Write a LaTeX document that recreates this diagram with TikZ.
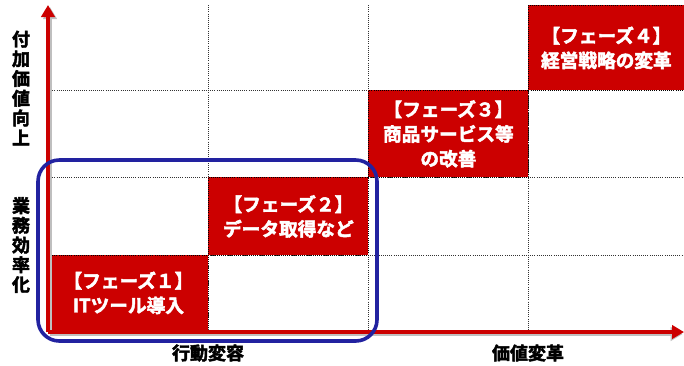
\documentclass[tikz,border=0pt]{standalone}
\usepackage{fontspec}
\setmainfont{Noto Sans CJK JP}[BoldFont={* Bold}, BoldFeatures={FakeBold=2.5}]
\usetikzlibrary{arrows.meta}
\definecolor{phred}{HTML}{CC0000}
\definecolor{frameblue}{HTML}{2222A0}
\tikzset{
  phase/.style={fill=phred, draw=black, densely dotted, line width=0.6pt, minimum width=120pt, inner sep=0pt, text=white, font=\bfseries\fontsize{14}{18.5}\selectfont, align=center},
  gridline/.style={densely dotted, line width=0.6pt, black!80},
  axis/.style={phred, line width=2.4pt, -{Triangle[length=9pt,width=10pt]}},
  axshadow/.style={black!25, line width=2.4pt, -{Triangle[length=9pt,width=10pt]}},
  axlabel/.style={font=\bfseries\fontsize{13.5}{14.8}\selectfont, align=center, inner sep=0pt},
}
\begin{document}
\begin{tikzpicture}[x=0.75pt,y=-0.75pt]
\useasboundingbox (0,0) rectangle (684,365);
% grid
\draw[gridline] (48,90) -- (528,90);
\draw[gridline] (48,177) -- (684,177);
\draw[gridline] (48,255) -- (684,255);
\draw[gridline] (208,5) -- (208,330);
\draw[gridline] (368,5) -- (368,330);
\draw[gridline] (528,5) -- (528,330);
% phase boxes
\node[phase, minimum width=120pt, minimum height=56.25pt, anchor=north west] (p1) at (48,255) {【フェーズ１】\\ITツール導入};
\node[phase, minimum width=120pt, minimum height=58.5pt, anchor=north west] (p2) at (208,177) {【フェーズ２】\\データ取得など};
\node[phase, minimum width=120pt, minimum height=65.25pt, anchor=north west] (p3) at (368,90) {【フェーズ３】\\商品サービス等\\の改善};
\node[phase, minimum width=117pt, minimum height=63.75pt, anchor=north west] (p4) at (528,5) {【フェーズ４】\\経営戦略の変革};
% axes
\coordinate (o) at (48,332);
\coordinate (ytop) at (48,5);
\coordinate (xend) at (684,332);
\draw[axshadow] ([shift={(1.5pt,-1.5pt)}]o) -- ([shift={(1.5pt,-1.5pt)}]ytop);
\draw[axshadow] ([shift={(1.5pt,-1.5pt)}]o) -- ([shift={(-1pt,-1.5pt)}]xend);
\draw[axis] (o) -- (ytop);
\draw[axis] (o) -- (xend);
% focus frame
\draw[frameblue, line width=2.7pt, rounded corners=16pt] (38,160) rectangle (377,341);
% labels
\node[axlabel] (yl1) at (21,88) {付\\加\\価\\値\\向\\上};
\node[axlabel] (yl2) at (21,245) {業\\務\\効\\率\\化};
\node[axlabel] (xl1) at (208,353) {行動変容};
\node[axlabel] (xl2) at (528,353) {価値変革};
\end{tikzpicture}
\end{document}
